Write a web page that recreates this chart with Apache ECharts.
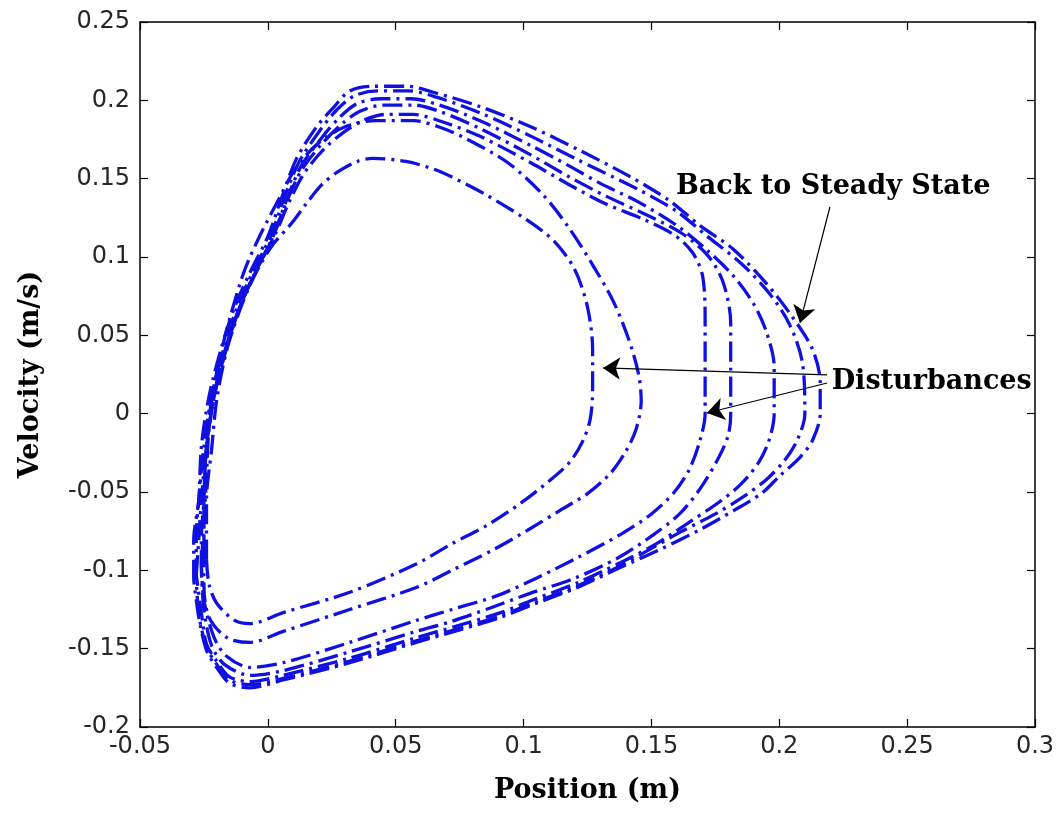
<!DOCTYPE html>
<html>
<head>
<meta charset="utf-8">
<title>Phase portrait</title>
<script src="https://cdn.jsdelivr.net/npm/echarts@6/dist/echarts.min.js"></script>
<style>
  html, body { margin: 0; padding: 0; background: #ffffff; }
  #chart { width: 1060px; height: 813px; }
</style>
</head>
<body>
<div id="chart"></div>
<script>
// Axis ranges and tick spacing
const xRange = [-0.05, 0.3];
const yRange = [-0.2, 0.25];
const tickStep = 0.05;

// Phase trajectories [position (m), velocity (m/s)], traced clockwise.
// Orbit 1 is the smallest orbit right after the first disturbance,
// the steady orbit is the limit cycle the system returns to.
const orbit1 = [[-0.024,-0.093],[-0.024,-0.055],[-0.022,-0.023],[-0.020,0.009],[-0.016,0.041],[-0.011,0.066],[-0.007,0.082],[-0.003,0.095],[0.002,0.108],[0.009,0.121],[0.015,0.134],[0.021,0.146],[0.027,0.154],[0.035,0.161],[0.041,0.163],[0.054,0.161],[0.065,0.156],[0.072,0.151],[0.085,0.140],[0.101,0.124],[0.112,0.110],[0.120,0.092],[0.125,0.068],[0.127,0.041],[0.127,0.015],[0.126,-0.004],[0.123,-0.018],[0.118,-0.031],[0.110,-0.043],[0.099,-0.057],[0.086,-0.071],[0.072,-0.083],[0.058,-0.096],[0.032,-0.114],[0.006,-0.127],[-0.007,-0.134],[-0.013,-0.132],[-0.020,-0.121],[-0.023,-0.109],[-0.024,-0.093]];

const orbit2 = [[-0.025,-0.090],[-0.025,-0.055],[-0.024,-0.023],[-0.022,0.009],[-0.018,0.041],[-0.014,0.066],[-0.009,0.092],[-0.003,0.114],[0.004,0.136],[0.011,0.157],[0.020,0.173],[0.030,0.183],[0.042,0.187],[0.057,0.187],[0.067,0.183],[0.077,0.176],[0.094,0.160],[0.108,0.139],[0.118,0.118],[0.127,0.095],[0.135,0.072],[0.141,0.048],[0.145,0.025],[0.146,0.008],[0.144,-0.010],[0.140,-0.024],[0.134,-0.038],[0.125,-0.051],[0.114,-0.062],[0.103,-0.073],[0.088,-0.087],[0.072,-0.100],[0.058,-0.111],[0.032,-0.125],[0.006,-0.139],[-0.007,-0.146],[-0.016,-0.143],[-0.023,-0.130],[-0.025,-0.110],[-0.025,-0.090]];

const orbit3 = [[-0.026,-0.095],[-0.025,-0.070],[-0.024,-0.040],[-0.023,-0.010],[-0.020,0.020],[-0.015,0.050],[-0.010,0.072],[-0.004,0.093],[0.003,0.115],[0.008,0.134],[0.014,0.153],[0.022,0.169],[0.030,0.180],[0.037,0.187],[0.046,0.191],[0.057,0.191],[0.067,0.187],[0.083,0.177],[0.103,0.160],[0.118,0.146],[0.132,0.134],[0.147,0.124],[0.159,0.114],[0.166,0.103],[0.170,0.088],[0.171,0.060],[0.171,0.030],[0.171,0.000],[0.169,-0.017],[0.165,-0.035],[0.159,-0.050],[0.150,-0.064],[0.138,-0.077],[0.121,-0.092],[0.105,-0.105],[0.090,-0.116],[0.072,-0.125],[0.058,-0.132],[0.032,-0.146],[0.006,-0.159],[-0.007,-0.162],[-0.016,-0.155],[-0.021,-0.143],[-0.025,-0.119],[-0.026,-0.095]];

const orbit4 = [[-0.026,-0.100],[-0.026,-0.080],[-0.025,-0.055],[-0.024,-0.021],[-0.021,0.011],[-0.016,0.043],[-0.011,0.068],[-0.005,0.090],[0.002,0.113],[0.007,0.134],[0.013,0.155],[0.021,0.172],[0.029,0.185],[0.036,0.193],[0.045,0.197],[0.057,0.197],[0.067,0.193],[0.083,0.182],[0.103,0.165],[0.118,0.151],[0.132,0.139],[0.148,0.127],[0.162,0.115],[0.172,0.101],[0.178,0.084],[0.181,0.058],[0.181,0.028],[0.181,0.000],[0.180,-0.014],[0.176,-0.029],[0.169,-0.048],[0.161,-0.064],[0.151,-0.077],[0.137,-0.092],[0.120,-0.105],[0.102,-0.115],[0.087,-0.124],[0.071,-0.133],[0.058,-0.139],[0.032,-0.152],[0.006,-0.164],[-0.007,-0.167],[-0.017,-0.160],[-0.022,-0.148],[-0.025,-0.125],[-0.026,-0.100]];

const orbit5 = [[-0.028,-0.103],[-0.027,-0.080],[-0.026,-0.055],[-0.024,-0.021],[-0.021,0.011],[-0.016,0.043],[-0.011,0.068],[-0.005,0.090],[0.002,0.113],[0.007,0.135],[0.013,0.158],[0.021,0.176],[0.028,0.189],[0.035,0.198],[0.044,0.201],[0.056,0.201],[0.067,0.197],[0.083,0.187],[0.103,0.171],[0.118,0.158],[0.130,0.147],[0.145,0.135],[0.160,0.120],[0.172,0.104],[0.182,0.088],[0.190,0.070],[0.195,0.052],[0.198,0.030],[0.198,0.000],[0.196,-0.017],[0.192,-0.031],[0.185,-0.045],[0.176,-0.057],[0.165,-0.069],[0.152,-0.083],[0.138,-0.095],[0.121,-0.108],[0.105,-0.118],[0.091,-0.127],[0.075,-0.135],[0.058,-0.143],[0.032,-0.156],[0.006,-0.167],[-0.007,-0.171],[-0.015,-0.168],[-0.020,-0.158],[-0.024,-0.147],[-0.026,-0.127],[-0.028,-0.103]];

const orbit6 = [[-0.028,-0.105],[-0.028,-0.080],[-0.027,-0.055],[-0.025,-0.021],[-0.022,0.011],[-0.017,0.043],[-0.012,0.068],[-0.006,0.090],[0.001,0.113],[0.006,0.136],[0.012,0.160],[0.020,0.180],[0.027,0.194],[0.034,0.203],[0.043,0.206],[0.055,0.206],[0.066,0.202],[0.083,0.192],[0.103,0.177],[0.120,0.163],[0.130,0.155],[0.145,0.143],[0.160,0.129],[0.172,0.113],[0.185,0.096],[0.196,0.077],[0.204,0.057],[0.209,0.033],[0.210,0.000],[0.207,-0.017],[0.202,-0.030],[0.195,-0.042],[0.186,-0.053],[0.175,-0.064],[0.162,-0.075],[0.150,-0.086],[0.138,-0.097],[0.121,-0.110],[0.105,-0.120],[0.091,-0.129],[0.075,-0.137],[0.058,-0.145],[0.032,-0.158],[0.006,-0.169],[-0.007,-0.173],[-0.015,-0.170],[-0.020,-0.160],[-0.024,-0.149],[-0.027,-0.128],[-0.028,-0.105]];

const steadyOrbit = [[-0.029,-0.106],[-0.029,-0.081],[-0.027,-0.055],[-0.026,-0.021],[-0.023,0.011],[-0.018,0.043],[-0.013,0.068],[-0.007,0.090],[0.000,0.113],[0.005,0.136],[0.011,0.162],[0.019,0.183],[0.026,0.196],[0.032,0.206],[0.041,0.209],[0.054,0.209],[0.065,0.205],[0.083,0.196],[0.103,0.183],[0.122,0.168],[0.142,0.151],[0.157,0.136],[0.169,0.120],[0.182,0.105],[0.195,0.083],[0.205,0.062],[0.213,0.041],[0.216,0.020],[0.216,0.000],[0.213,-0.017],[0.208,-0.028],[0.200,-0.040],[0.193,-0.051],[0.182,-0.062],[0.169,-0.074],[0.153,-0.087],[0.138,-0.098],[0.121,-0.111],[0.105,-0.121],[0.091,-0.130],[0.075,-0.138],[0.058,-0.146],[0.032,-0.159],[0.006,-0.170],[-0.007,-0.175],[-0.015,-0.172],[-0.020,-0.162],[-0.024,-0.151],[-0.027,-0.130],[-0.029,-0.106]];

const orbits = [orbit1, orbit2, orbit3, orbit4, orbit5, orbit6, steadyOrbit];
const orbitNames = ['Orbit 1', 'Orbit 2', 'Orbit 3', 'Orbit 4', 'Orbit 5', 'Orbit 6', 'Steady state'];

// Annotation texts and where they sit (data units)
const annotationTexts = ['Back to Steady State', 'Disturbances'];
const annotationAnchors = [[0.1596, 0.1447], [0.2205, 0.0202]];

// Annotation arrows: [from, to] in data units
const arrowSegments = [
  [[0.2198, 0.1319], [0.2081, 0.0579]],
  [[0.2187, 0.0247], [0.1311, 0.0292]],
  [[0.2187, 0.0196], [0.1717, 0.0004]]
];

const serifBold = { fontFamily: 'DejaVu Serif', fontWeight: 'bold', fontSize: 27, color: '#000000' };
const tickFont = { fontFamily: 'DejaVu Sans', fontSize: 24, color: '#262626' };
const blue = '#1010e0';

const chart = echarts.init(document.getElementById('chart'), null, { renderer: 'canvas' });

const orbitSeries = orbits.map((pts, i) => ({
  name: orbitNames[i],
  type: 'line',
  xAxisIndex: 0,
  yAxisIndex: 0,
  data: pts,
  showSymbol: false,
  smooth: 0.3,
  lineStyle: { color: blue, width: 3.3, type: [20, 6, 3, 6], cap: 'butt' },
  z: 2 + i,
  silent: true
}));

const annotationSeries = {
  name: 'Annotations',
  type: 'scatter',
  xAxisIndex: 0,
  yAxisIndex: 0,
  symbolSize: 0,
  itemStyle: { color: '#000000', opacity: 1 },
  data: annotationAnchors.map((p, i) => [p[0], p[1], annotationTexts[i]]),
  label: {
    show: true,
    position: 'right',
    distance: 0,
    formatter: (p) => p.value[2],
    textBorderWidth: 0,
    opacity: 1,
    ...serifBold
  },
  markLine: {
    silent: true,
    symbol: ['none', 'arrow'],
    symbolSize: 17,
    label: { show: false },
    lineStyle: { color: '#000000', width: 1.2, type: 'solid', opacity: 1 },
    data: arrowSegments.map(seg => [{ coord: seg[0] }, { coord: seg[1] }])
  },
  z: 20,
  silent: true
};

const frameAxis = (pos) => ({
  position: pos,
  axisLine: { show: true, onZero: false, lineStyle: { color: '#000000', width: 1.5 } },
  axisTick: { show: true, inside: true, length: 8, lineStyle: { color: '#000000', width: 1.2 } },
  axisLabel: { show: false },
  splitLine: { show: false }
});

chart.setOption({
  animation: false,
  backgroundColor: '#ffffff',
  grid: { left: 140, right: 25, top: 22, bottom: 86, containLabel: false },
  xAxis: [
    {
      type: 'value',
      position: 'bottom',
      min: xRange[0], max: xRange[1], interval: tickStep,
      name: 'Position (m)',
      nameLocation: 'middle',
      nameGap: 50,
      nameTextStyle: serifBold,
      axisLine: { show: true, onZero: false, lineStyle: { color: '#000000', width: 1.5 } },
      axisTick: { show: true, inside: true, length: 8, lineStyle: { color: '#000000', width: 1.2 } },
      axisLabel: { show: true, margin: 8, showMinLabel: true, showMaxLabel: true, ...tickFont },
      splitLine: { show: false }
    },
    Object.assign({ type: 'value', min: xRange[0], max: xRange[1], interval: tickStep }, frameAxis('top'))
  ],
  yAxis: [
    {
      type: 'value',
      position: 'left',
      min: yRange[0], max: yRange[1], interval: tickStep,
      name: 'Velocity (m/s)',
      nameLocation: 'middle',
      nameGap: 96,
      nameTextStyle: serifBold,
      axisLine: { show: true, onZero: false, lineStyle: { color: '#000000', width: 1.5 } },
      axisTick: { show: true, inside: true, length: 8, lineStyle: { color: '#000000', width: 1.2 } },
      axisLabel: { show: true, margin: 10, showMinLabel: true, showMaxLabel: true, ...tickFont },
      splitLine: { show: false }
    },
    Object.assign({ type: 'value', min: yRange[0], max: yRange[1], interval: tickStep }, frameAxis('right'))
  ],
  series: [...orbitSeries, annotationSeries]
});
</script>
</body>
</html>
